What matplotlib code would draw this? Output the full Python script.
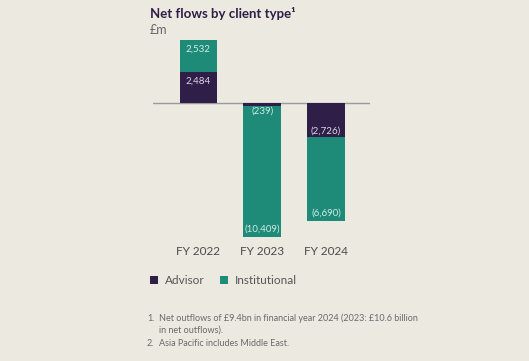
import matplotlib
matplotlib.use("Agg")
import matplotlib.pyplot as plt
import numpy as np
from matplotlib.patches import Rectangle

categories = ["FY 2022", "FY 2023", "FY 2024"]
advisor = [2484, -239, -2726]
institutional = [2532, -10409, -6690]
advisor_labels = ["2,484", "(239)", "(2,726)"]
institutional_labels = ["2,532", "(10,409)", "(6,690)"]

BG = "#ECE9E1"
PURPLE = "#2F1E47"
TEAL = "#1E8A78"

plt.rcParams["font.family"] = ["Lato", "DejaVu Sans"]

fig = plt.figure(figsize=(5.29, 3.61), dpi=100, facecolor=BG)
W, H = 529, 361
ax = fig.add_axes([153 / W, (H - 240) / H, (370 - 153) / W, (240 - 35) / H])
ax.set_facecolor(BG)

x = np.arange(len(categories))
width = 0.59
ax.axhline(0, color="#9a9a9a", lw=1.0, zorder=1)
ax.bar(x, advisor, width, color=PURPLE, zorder=2, label="Advisor")
ax.bar(x, institutional, width, bottom=advisor, color=TEAL, zorder=2, label="Institutional")

ax.set_ylim(-10905, 5413)
ax.set_xlim(-0.711, 2.6875)

px = 79.6  # data units per pixel
for i in range(len(x)):
    a, b = advisor[i], institutional[i]
    if a >= 0:
        ya = a - 9 * px
        yb = a + b - 9 * px
        ax.text(x[i], ya, advisor_labels[i], ha="center", va="center", fontsize=7, color="#DCD6E6", zorder=3)
        ax.text(x[i], yb, institutional_labels[i], ha="center", va="center", fontsize=7, color="#D2ECE4", zorder=3)
    else:
        if abs(a) / px < 15:
            ya = a - 5 * px
            ax.text(x[i], ya, advisor_labels[i], ha="center", va="center", fontsize=7, color="#D2ECE4", zorder=3)
        else:
            ya = a + 6 * px
            ax.text(x[i], ya, advisor_labels[i], ha="center", va="center", fontsize=7, color="#DCD6E6", zorder=3)
        yb = a + b + 8 * px
        ax.text(x[i], yb, institutional_labels[i], ha="center", va="center", fontsize=7, color="#D2ECE4", zorder=3)

for s in ax.spines.values():
    s.set_visible(False)
ax.set_yticks([])
ax.set_xticks(x)
ax.set_xticklabels(categories, fontsize=8.5, color="#4a4a4a")
ax.tick_params(axis="x", length=0, pad=4)

fig.text(150 / W, 1 - 14 / H, "Net flows by client type\u00b9", fontsize=9.5, fontweight="bold",
         color="#2F1E47", va="center", ha="left")
fig.text(150 / W, 1 - 30 / H, "£m", fontsize=9, color="#666666", va="center", ha="left")

for (xp, col, lab) in [(150, PURPLE, "Advisor"), (220, TEAL, "Institutional")]:
    fig.patches.append(Rectangle((xp / W, 1 - 284 / H), 8 / W, 8 / H, transform=fig.transFigure,
                                 facecolor=col, edgecolor="none"))
    fig.text((xp + 15) / W, 1 - 280 / H, lab, fontsize=8.5, color="#555555", va="center", ha="left")

notes = [("1.", 321, "Net outflows of £9.4bn in financial year 2024 (2023: £10.6 billion"),
         ("", 333, "in net outflows)."),
         ("2.", 346, "Asia Pacific includes Middle East.")]
for num, yp, t in notes:
    if num:
        fig.text(147 / W, 1 - yp / H, num, fontsize=6.5, color="#6a6a6a", va="baseline", ha="left")
    fig.text(159 / W, 1 - yp / H, t, fontsize=6.5, color="#6a6a6a", va="baseline", ha="left")

fig.savefig("out.png", dpi=100, facecolor=BG)
